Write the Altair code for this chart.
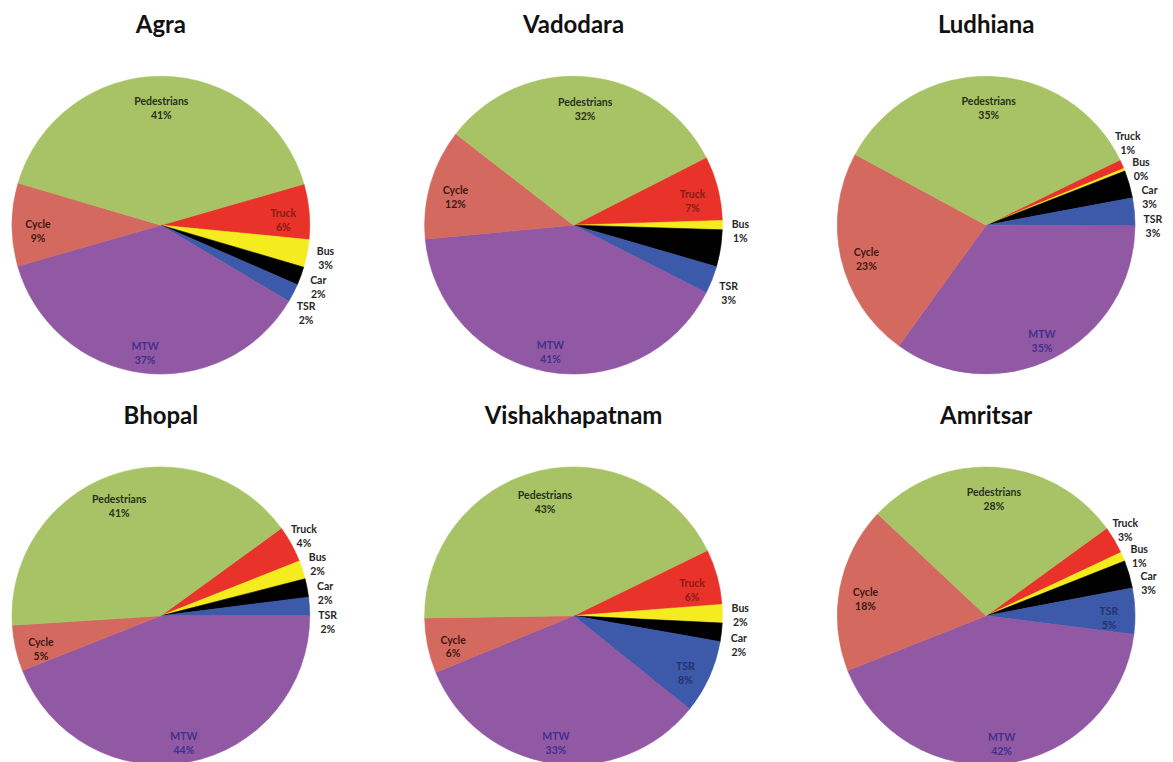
import math
import altair as alt
import pandas as pd

# ---------------- data ----------------
cities = ["Agra", "Vadodara", "Ludhiana", "Bhopal", "Vishakhapatnam", "Amritsar"]
categories = ["Truck", "Bus", "Car", "TSR", "MTW", "Cycle", "Pedestrians"]

agra = [6, 3, 2, 2, 37, 9, 41]
vadodara = [7, 1, 4, 3, 41, 12, 32]
ludhiana = [1, 0.3, 3, 3, 35, 23, 35]
bhopal = [4, 2, 2, 2, 44, 5, 41]
vishakhapatnam = [6, 2, 2, 8, 33, 6, 43]
amritsar = [3, 1, 3, 5, 42, 18, 28]

city_values = [agra, vadodara, ludhiana, bhopal, vishakhapatnam, amritsar]

# labels not shown in the original figure
hidden_labels = [("Vadodara", "Car")]

# ---------------- style ----------------
slice_colors = ["#e8322a", "#f4ec1e", "#000000", "#3c59aa", "#9158a4", "#d46a5f", "#a8c365"]
inside_label_colors = ["#8a1c14", "#333333", "#333333", "#26326e", "#41308c", "#3e1712", "#26301a"]
start_angle_deg = [74, 63, 64, 54, 64, 54]   # rotation of first slice (clockwise from 12 o'clock)

R = 149            # pie radius
W, H = 300, 300    # panel size
FONT = "Lato"
INSIDE_MIN = 5     # slices >= 5% get their label inside
SEP = 0.028        # min separation (fraction of circle) for outside labels

# ---------------- table ----------------
rows = []
for city, vals in zip(cities, city_values):
    total = sum(vals)
    mids, cum = [], 0.0
    for v in vals:
        mids.append(cum + v / 2)
        cum += v
    lab = list(mids)
    outside = [i for i, v in enumerate(vals)
               if v < INSIDE_MIN and (city, categories[i]) not in hidden_labels]
    if outside:
        p = [mids[i] for i in outside]
        for k in range(1, len(p)):
            p[k] = max(p[k], p[k - 1] + SEP * total)
        shift = (sum(mids[i] for i in outside) - sum(p)) / len(p)
        for i, pv in zip(outside, p):
            lab[i] = pv + shift
    for i, (cat, v) in enumerate(zip(categories, vals)):
        rows.append({
            "city": city, "cat": cat, "ord": i, "v": v, "lab": lab[i],
            "label": f"{cat}\n{round(v)}%",
            "inside": int(v >= INSIDE_MIN),
            "show": int((city, cat) not in hidden_labels),
        })
df = pd.DataFrame(rows)

cscale = alt.Scale(domain=categories, range=slice_colors)
lscale = alt.Scale(domain=categories, range=inside_label_colors)


def pie(city, start):
    d = df[df.city == city]
    total = float(d.v.sum())
    a = math.radians(start)
    sc = alt.Scale(domain=[0, total], range=[a, a + 2 * math.pi])
    base = alt.Chart(d)
    arcs = base.mark_arc(outerRadius=R, strokeWidth=0.6).encode(
        theta=alt.Theta("v:Q", stack=True, scale=sc),
        order=alt.Order("ord:Q", sort="ascending"),
        color=alt.Color("cat:N", scale=cscale, legend=None),
        stroke=alt.Stroke("cat:N", scale=cscale, legend=None),
    )
    inside = base.transform_filter("datum.inside == 1 && datum.show == 1").mark_text(
        radius=123, font=FONT, fontSize=10.5, fontWeight="bold",
        lineBreak="\n", lineHeight=14, align="center", baseline="middle",
    ).encode(
        theta=alt.Theta("lab:Q", stack=False, scale=sc),
        text="label:N",
        fill=alt.Fill("cat:N", scale=lscale, legend=None),
    )
    outside = base.transform_filter("datum.inside == 0 && datum.show == 1").mark_text(
        radius=167, font=FONT, fontSize=10.5, fontWeight="bold",
        lineBreak="\n", lineHeight=14, align="center", baseline="middle",
        color="#262626",
    ).encode(
        theta=alt.Theta("lab:Q", stack=False, scale=sc),
        text="label:N",
    )
    return alt.layer(arcs, inside, outside).properties(
        width=W, height=H,
        title=alt.Title(city, font=FONT, fontSize=24, fontWeight="bold",
                        color="#111111", baseline="bottom", offset=13),
    )


charts = [pie(c, s) for c, s in zip(cities, start_angle_deg)]

chart = alt.concat(
    *charts, columns=3, spacing={"row": 91, "column": 113}, bounds="flush"
).resolve_scale(theta="independent").properties(
    padding={"left": 2, "top": 5, "right": 2, "bottom": 0},
    background="white",
).configure_view(stroke=None)

chart.save("out.html", embed_options={"renderer": "svg", "actions": False})
